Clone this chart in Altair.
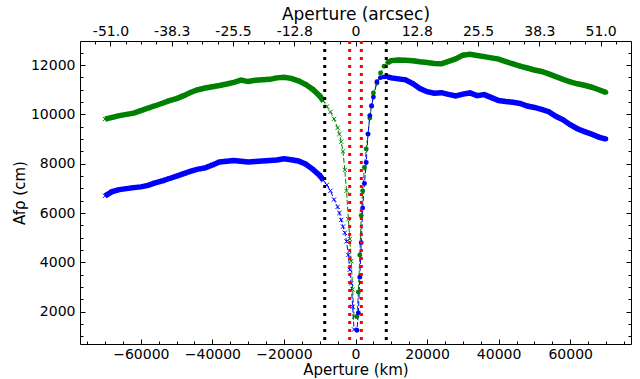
import json
import altair as alt
import pandas as pd

# ---------------- data ----------------
X_LEFT = [-70000, -68000, -66000, -64000, -62000, -60000, -58000, -56000, -54000, -52000,
          -50000, -48000, -46000, -44000, -42000, -40000, -38000, -36000, -34000, -32000,
          -30000, -28000, -26000, -24000, -22000, -20000, -18000, -16000, -14000, -12000,
          -10000, -9000, -8000, -7000, -6000, -5000, -4500, -4000, -3500, -3000,
          -2500, -2000, -1600, -1200, -800, -400]
GREEN_LEFT = [9810, 9880, 9950, 10000, 10050, 10150, 10250, 10350, 10450, 10560,
              10640, 10760, 10900, 11000, 11070, 11120, 11170, 11230, 11300, 11390,
              11330, 11380, 11400, 11420, 11480, 11500, 11460, 11360, 11220, 11020,
              10750, 10550, 10320, 10100, 9820, 9450, 9200, 8890, 8500, 7750,
              6900, 5750, 4950, 4050, 2900, 1800]
BLUE_LEFT = [6700, 6870, 6950, 6990, 7030, 7060, 7120, 7220, 7300, 7400,
             7500, 7600, 7700, 7780, 7830, 7950, 8070, 8100, 8130, 8100,
             8070, 8090, 8110, 8130, 8150, 8200, 8160, 8110, 7990, 7780,
             7530, 7330, 7140, 6900, 6550, 6250, 6000, 5720, 5450, 5200,
             4850, 4300, 3700, 3150, 2200, 1280]

X_RIGHT = [400, 800, 1200, 1600, 2000, 2500, 3000, 3500, 4000, 4500,
           5000, 6000, 7000, 8000, 9000, 10000, 12000, 14000, 16000, 18000,
           20000, 22000, 24000, 26000, 28000, 30000, 32000, 34000, 36000, 38000,
           40000, 42000, 44000, 46000, 48000, 50000, 52000, 54000, 56000, 58000,
           60000, 62000, 64000, 66000, 68000, 70000]
GREEN_RIGHT = [1800, 2800, 4300, 5900, 6900, 7850, 8600, 9200, 9850, 10330,
               10870, 11270, 11680, 11950, 12100, 12180, 12200, 12190, 12170, 12130,
               12100, 12060, 12050, 12150, 12250, 12400, 12440, 12390, 12340, 12290,
               12240, 12140, 12050, 11960, 11880, 11800, 11740, 11640, 11530, 11420,
               11320, 11240, 11180, 11100, 11000, 10890]
BLUE_RIGHT = [1250, 1950, 3400, 4800, 6200, 7200, 8050, 9200, 9950, 10350,
              10700, 11320, 11490, 11520, 11520, 11480, 11440, 11400, 11250, 11050,
              10920, 10860, 10880, 10810, 10750, 10820, 10870, 10760, 10800, 10680,
              10560, 10520, 10490, 10440, 10340, 10280, 10200, 10110, 9920, 9780,
              9580, 9420, 9300, 9200, 9080, 9000]

VLINES_BLACK = [-8600, 8600]
VLINES_RED = [-1630, 1630]

# axis ticks / labels
X_MAJOR = [-60000, -40000, -20000, 0, 20000, 40000, 60000]
X_MINOR = list(range(-75000, 75001, 5000))
Y_MAJOR = [2000, 4000, 6000, 8000, 10000, 12000]
Y_MINOR = list(range(1000, 13000, 500))
KM_PER_ARCSEC = 1343.0
TOP_ARCSEC = [-51.0, -38.25, -25.5, -12.75, 0.0, 12.75, 25.5, 38.25, 51.0]
TOP_LABELS = ["-51.0", "-38.3", "-25.5", "-12.8", "0", "12.8", "25.5", "38.3", "51.0"]
TOP_MINOR_ARCSEC = [k * 12.75 / 4 for k in range(-18, 19)]

# ---------------- build table ----------------
rows = []
for x, g, b in zip(X_LEFT, GREEN_LEFT, BLUE_LEFT):
    rows.append(dict(x=x, y=g, series="green", side="L"))
    rows.append(dict(x=x, y=b, series="blue", side="L"))
for x, g, b in zip(X_RIGHT, GREEN_RIGHT, BLUE_RIGHT):
    rows.append(dict(x=x, y=g, series="green", side="R"))
    rows.append(dict(x=x, y=b, series="blue", side="R"))
df = pd.DataFrame(rows)
df["dense"] = df["x"].abs() >= 9000

top_ticks_km = [round(a * KM_PER_ARCSEC) for a in TOP_ARCSEC]
top_minor_km = [round(a * KM_PER_ARCSEC) for a in TOP_MINOR_ARCSEC if abs(a * KM_PER_ARCSEC) <= 77000]
top_label_expr = f"{json.dumps(TOP_LABELS)}[indexof({json.dumps(top_ticks_km)}, datum.value)]"

xscale = alt.Scale(domain=[-77000, 77000], nice=False, zero=False)
yscale = alt.Scale(domain=[690, 12975], nice=False, zero=False)
color = alt.Color("series:N", scale=alt.Scale(domain=["green", "blue"], range=["#008000", "#0000ff"]), legend=None)

base = alt.Chart(df)

def X(axis=None):
    return alt.X("x:Q", scale=xscale, axis=axis)

def Y(axis=None):
    return alt.Y("y:Q", scale=yscale, axis=axis)

thick = base.transform_filter("datum.dense").mark_line(strokeWidth=5.5).encode(
    x=X(), y=Y(), color=color, detail="side:N")
thin = base.mark_line(strokeWidth=1, strokeDash=[5, 2]).encode(x=X(), y=Y(), color=color)
xmarks = base.transform_filter("datum.side == 'L'").mark_point(
    shape="M-1,-1L1,1M-1,1L1,-1", filled=False, strokeWidth=1, size=18, opacity=1
).encode(x=X(), y=Y(), color=color)
omarks = base.transform_filter("datum.side == 'R'").mark_circle(size=24, opacity=1).encode(
    x=X(), y=Y(), color=color)

black_rules = alt.Chart(pd.DataFrame({"x": VLINES_BLACK})).mark_rule(
    color="black", strokeWidth=3, strokeDash=[3, 5]).encode(x=X())
red_rules = alt.Chart(pd.DataFrame({"x": VLINES_RED})).mark_rule(
    color="red", strokeWidth=3, strokeDash=[3, 5]).encode(x=X())

common = dict(grid=False, domain=False, labelFont="DejaVu Sans", titleFont="DejaVu Sans",
              labelColor="black", titleColor="black", tickColor="black",
              titleFontWeight="normal", labelFlush=False)

def tick_axis(orient, values, size):
    return alt.Axis(orient=orient, values=values, labels=False, ticks=True, tickSize=size,
                    tickWidth=1, offset=-size, title=None, **common)

ax_bottom = alt.Axis(orient="bottom", values=X_MAJOR, format="d", ticks=False, tickSize=0,
                     labelFontSize=14, labelPadding=3, title="Aperture (km)", titleFontSize=15,
                     titlePadding=1, **common)
ax_top = alt.Axis(orient="top", values=top_ticks_km, labelExpr=top_label_expr, ticks=False, tickSize=0,
                  labelFontSize=14, labelPadding=3, title="Aperture (arcsec)", titleFontSize=17,
                  titlePadding=1, **common)
ax_left = alt.Axis(orient="left", values=Y_MAJOR, format="d", ticks=False, tickSize=0,
                   labelFontSize=14, labelPadding=5, title="Afρ (cm)", titleFontSize=15,
                   titlePadding=3, **common)

inv = base.mark_point(opacity=0)
axis_layers = [
    inv.encode(x=X(ax_bottom), y=Y(ax_left)),
    inv.encode(x=X(ax_top), y=Y(tick_axis("left", Y_MAJOR, 5))),
    inv.encode(x=X(tick_axis("bottom", X_MAJOR, 5)), y=Y(tick_axis("left", Y_MINOR, 3))),
    inv.encode(x=X(tick_axis("bottom", X_MINOR, 3)), y=Y(tick_axis("right", Y_MAJOR, 5))),
    inv.encode(x=X(tick_axis("top", top_ticks_km, 5)), y=Y(tick_axis("right", Y_MINOR, 3))),
    inv.encode(x=X(tick_axis("top", top_minor_km, 3))),
]

chart = alt.layer(
    thick, thin, xmarks, omarks, black_rules, red_rules, *axis_layers
).resolve_axis(x="independent", y="independent").properties(
    width=551, height=303,
    padding={"left": 80, "right": 9, "top": 41, "bottom": 35},
    autosize=alt.AutoSizeParams(type="none"),
).configure_view(stroke="black", strokeWidth=1)

chart.save("out.html", embed_options={"renderer": "svg", "actions": False})
